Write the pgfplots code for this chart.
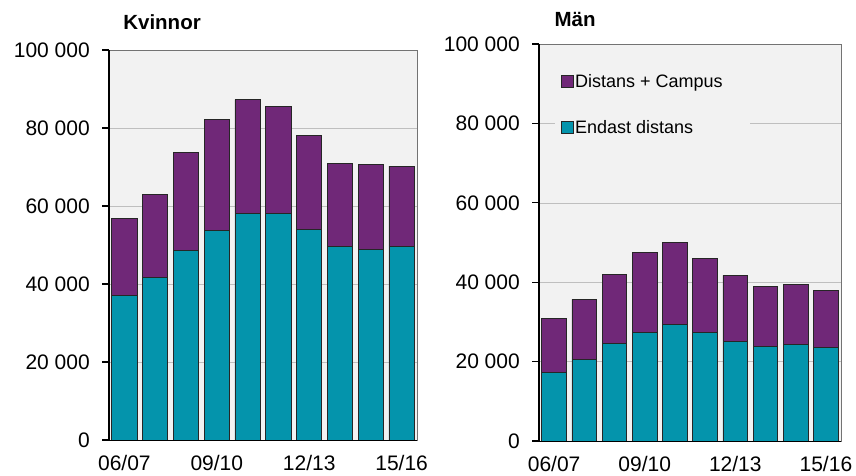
\documentclass[border=0pt]{standalone}
\usepackage{pgfplots}
\usepackage{pgfplotstable}
\pgfplotsset{compat=1.18}
\usepackage{fontspec}
\setmainfont{Liberation Sans}
\definecolor{tealc}{RGB}{4,148,172}
\definecolor{purpc}{RGB}{112,40,120}
\definecolor{bgc}{RGB}{242,242,242}

\pgfplotstableread{
x teal purple
0 37000 19800
1 41600 21400
2 48500 25300
3 53800 28300
4 58100 29200
5 58000 27500
6 53900 24300
7 49600 21300
8 48900 21800
9 49700 20500
}\kvinnor

\pgfplotstableread{
x teal purple
0 17200 13700
1 20600 15100
2 24600 17300
3 27300 20100
4 29400 20700
5 27300 18600
6 25100 16600
7 23800 15100
8 24300 15100
9 23600 14300
}\man

\pgfplotsset{mystyle/.style={
  scale only axis, anchor=north west,
  ybar stacked, bar width=0.82,
  xmin=-0.5, xmax=9.5, ymin=0, ymax=100000,
  scaled y ticks=false,
  xtick={0,3,6,9}, xticklabels={06/07,09/10,12/13,15/16},
  ytick={0,20000,40000,60000,80000,100000},
  yticklabels={0,20 000,40 000,60 000,80 000,100 000},
  tick align=outside, tickwidth=7pt,
  xtick style={/pgfplots/major tick length=0pt},
  ytick style={draw=black, line width=1.2pt},
  xtick pos=bottom, ytick pos=left,
  ymajorgrids, grid style={black!25, line width=0.6pt},
  axis background/.style={fill=bgc},
  axis line style={black!55, line width=0.8pt},
  tick label style={font=\fontsize{21}{21}\selectfont},
  yticklabel style={inner xsep=2pt, xshift=-10pt},
  xticklabel style={inner ysep=3pt, yshift=-5pt},
  title style={font=\bfseries\fontsize{20.5}{20.5}\selectfont, anchor=base west},
  extra description/.code={
    \draw[black,line width=1.8pt] (axis description cs:0,0)--(axis description cs:0,1);
    \draw[black,line width=1pt] (axis description cs:0,0)--(axis description cs:1,0);
    \draw[black,line width=1.2pt]
      (axis description cs:0,0) -- ++(-7pt,0pt)
      (axis description cs:0,0.2) -- ++(-7pt,0pt)
      (axis description cs:0,0.4) -- ++(-7pt,0pt)
      (axis description cs:0,0.6) -- ++(-7pt,0pt)
      (axis description cs:0,0.8) -- ++(-7pt,0pt)
      (axis description cs:0,1) -- ++(-7pt,0pt);
  },
}}

\begin{document}
\begin{tikzpicture}
\useasboundingbox (0,0) rectangle (856pt,-476pt);
\begin{axis}[mystyle, at={(109pt,-50pt)}, width=308pt, height=390pt,
  title={Kvinnor}, title style={at={(0.035,1.036)}, anchor=base west}]
\addplot[fill=tealc, draw=black!85, line width=0.8pt] table[x=x,y=teal]{\kvinnor};
\addplot[fill=purpc, draw=black!85, line width=0.8pt] table[x=x,y=purple]{\kvinnor};
\end{axis}
\begin{axis}[mystyle, at={(539pt,-44pt)}, width=302pt, height=397pt,
  title={Män}, title style={at={(0.04,1.030)}, anchor=base west},
  reverse legend,
  legend style={at={(0.053,0.935)}, anchor=north west, fill=bgc, draw=none,
    font=\fontsize{18}{18}\selectfont, row sep=28pt, inner xsep=6pt,
    nodes={inner xsep=1pt}},
  legend cell align=left,
  legend image code/.code={\draw[#1, draw=black!85, line width=0.8pt] (0pt,-6pt) rectangle (12pt,6pt);}]
\addplot[fill=tealc, draw=black!85, line width=0.8pt] table[x=x,y=teal]{\man};
\addlegendentry{\makebox[168pt][l]{Endast distans}}
\addplot[fill=purpc, draw=black!85, line width=0.8pt] table[x=x,y=purple]{\man};
\addlegendentry{\makebox[168pt][l]{Distans + Campus}}
\end{axis}
\end{tikzpicture}
\end{document}
